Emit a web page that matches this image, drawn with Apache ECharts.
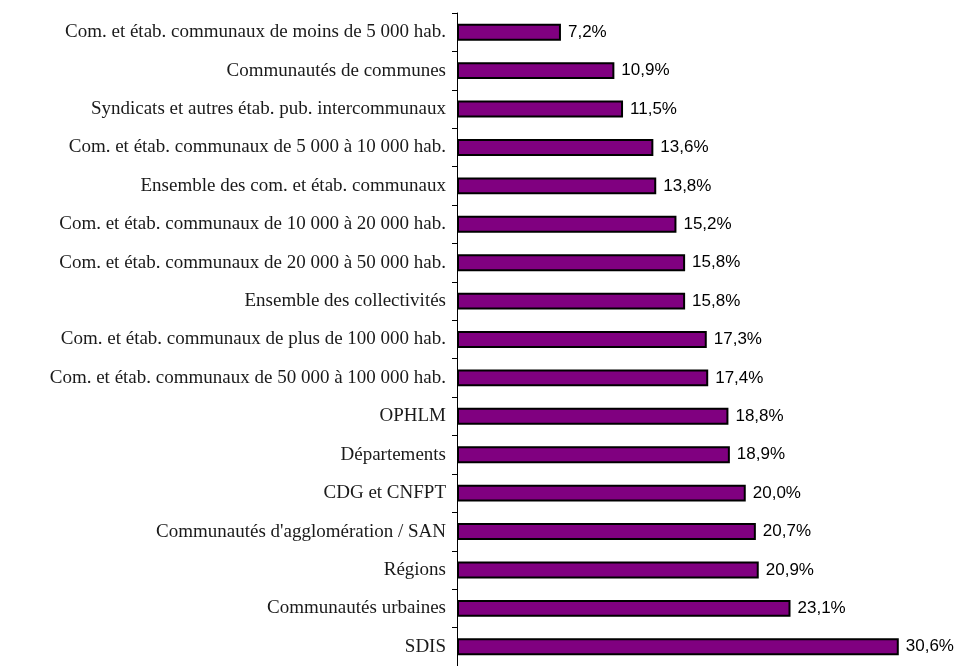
<!DOCTYPE html>
<html>
<head>
<meta charset="utf-8">
<script src="https://cdn.jsdelivr.net/npm/echarts@6/dist/echarts.min.js"></script>
<style>
  html, body { margin: 0; padding: 0; background: #fff; }
  #chart { width: 959px; height: 666px; }
</style>
</head>
<body>
<div id="chart"></div>
<script>
// Categories, listed top to bottom
var categories = [
  "Com. et étab. communaux de moins de 5 000 hab.",
  "Communautés de communes",
  "Syndicats et autres étab. pub. intercommunaux",
  "Com. et étab. communaux de 5 000 à 10 000 hab.",
  "Ensemble des com. et étab. communaux",
  "Com. et étab. communaux de 10 000 à 20 000 hab.",
  "Com. et étab. communaux de 20 000 à 50 000 hab.",
  "Ensemble des collectivités",
  "Com. et étab. communaux de plus de 100 000 hab.",
  "Com. et étab. communaux de 50 000 à 100 000 hab.",
  "OPHLM",
  "Départements",
  "CDG et CNFPT",
  "Communautés d'agglomération / SAN",
  "Régions",
  "Communautés urbaines",
  "SDIS"
];

// Percentages per category
var values = [7.2, 10.9, 11.5, 13.6, 13.8, 15.2, 15.8, 15.8, 17.3, 17.4, 18.8, 18.9, 20.0, 20.7, 20.9, 23.1, 30.6];

var chart = echarts.init(document.getElementById('chart'));
chart.setOption({
  animation: false,
  backgroundColor: '#ffffff',
  grid: { left: 457, top: 13, right: 40, bottom: -5, containLabel: false },
  xAxis: {
    type: 'value',
    min: 0,
    max: 32,
    show: false
  },
  yAxis: {
    type: 'category',
    data: categories,
    inverse: true,
    boundaryGap: true,
    axisLine: { show: true, lineStyle: { color: '#000', width: 1 } },
    axisTick: { show: true, inside: false, length: 5, lineStyle: { color: '#000' } },
    splitLine: { show: false },
    axisLabel: {
      margin: 11,
      color: '#1a1a1a',
      fontFamily: 'Liberation Serif, serif',
      fontSize: 19
    }
  },
  series: [{
    type: 'bar',
    data: values,
    barWidth: '44%',
    itemStyle: { color: '#800080', borderColor: '#000', borderWidth: 2 },
    label: {
      show: true,
      position: 'right',
      distance: 7,
      color: '#000',
      fontFamily: 'Liberation Sans, Arial, sans-serif',
      fontSize: 17,
      formatter: function (p) { return p.value.toFixed(1).replace('.', ',') + '%'; }
    }
  }]
});
</script>
</body>
</html>
